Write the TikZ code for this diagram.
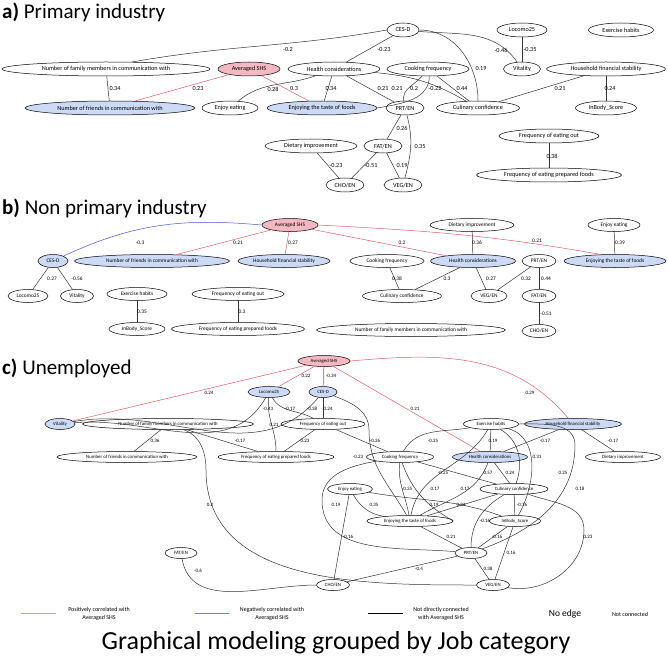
\documentclass[tikz,border=0pt]{standalone}
\usepackage{fontspec}
\setmainfont{Carlito}
\usetikzlibrary{shapes.geometric}
\definecolor{pinkf}{HTML}{F4B8C3}
\definecolor{bluef}{HTML}{CCDAF6}
\definecolor{redl}{HTML}{E35D6A}
\definecolor{bluel}{HTML}{4A57D0}
\definecolor{orl}{HTML}{EE9E5E}
\definecolor{bll}{HTML}{5B8FCF}
\begin{document}
\begin{tikzpicture}[x=1pt,y=-1pt,
  e/.style={ellipse,draw,inner sep=0pt,line width=0.5pt},
  ea/.style={e,minimum height=14pt,font=\fontsize{6.2}{6.2}\selectfont},
  eb/.style={e,minimum height=13pt,font=\fontsize{5.4}{5.4}\selectfont},
  ec/.style={e,minimum height=11pt,font=\fontsize{4.8}{4.8}\selectfont},
  pk/.style={fill=pinkf},
  bu/.style={fill=bluef},
  la/.style={inner sep=0pt,font=\fontsize{6.2}{6.2}\selectfont},
  lb/.style={inner sep=0pt,font=\fontsize{5.4}{5.4}\selectfont},
  lc/.style={inner sep=0pt,font=\fontsize{5}{5}\selectfont},
  ed/.style={line width=0.5pt,black!80},
  rd/.style={line width=0.5pt,redl},
  bd/.style={line width=0.5pt,bluel},
  ttl/.style={anchor=west,inner sep=0pt,font=\fontsize{21}{21}\selectfont}]
\useasboundingbox (0,0) rectangle (668,660);
% ===== a =====
\node[ttl] (ta) at (2,12) {\textbf{a)} Primary industry};
\node[ea,minimum width=32pt] (aCES) at (403,30) {CES-D};
\node[ea,minimum width=50pt] (aLoc) at (522,30) {Locomo25};
\node[ea,minimum width=65pt] (aEx) at (621,30) {Exercise habits};
\node[ea,minimum width=208pt] (aFam) at (106,69) {Number of family members in communication with};
\node[ea,pk,minimum width=62pt] (aSHS) at (249,69) {Averaged SHS};
\node[ea,minimum width=92pt] (aHea) at (334,69) {Health considerations};
\node[ea,minimum width=82pt] (aCook) at (428,69) {Cooking frequency};
\node[ea,minimum width=37pt] (aVit) at (522,69) {Vitality};
\node[ea,minimum width=119pt] (aHou) at (606,69) {Household financial stability};
\node[ea,bu,minimum width=170pt] (aFri) at (110,108) {Number of friends in communication with};
\node[ea,minimum width=56pt] (aEE) at (230,108) {Enjoy eating};
\node[ea,bu,minimum width=110pt] (aTas) at (322,108) {Enjoying the taste of foods};
\node[ea,minimum width=38pt] (aPRT) at (405,108) {PRT/EN};
\node[ea,minimum width=83pt] (aCul) at (478,108) {Culinary confidence};
\node[ea,minimum width=61pt] (aInB) at (606,108) {InBody\_Score};
\node[ea,minimum width=100pt] (aFO) at (549,136) {Frequency of eating out};
\node[ea,minimum width=92pt] (aDie) at (311,146) {Dietary improvement};
\node[ea,minimum width=38pt] (aFAT) at (383,146) {FAT/EN};
\node[ea,minimum width=145pt] (aFP) at (549,175) {Frequency of eating prepared foods};
\node[ea,minimum width=38pt] (aCHO) at (345,185) {CHO/EN};
\node[ea,minimum width=38pt] (aVEG) at (403,185) {VEG/EN};
\draw[ed] (aFam.15) to[out=10,in=190] (aCES.west);
\node[la] at (288,50) {-0.2};
\draw[ed] (aHea) -- (aCES);  \node[la] at (384,50) {-0.23};
\draw[ed] (aCES) to[out=-5,in=125] (aVit); \node[la] at (501,50) {-0.46};
\draw[ed] (aLoc) -- (aVit); \node[la] at (530,50) {-0.35};
\draw[ed] (aCES.east) to[out=0,in=90] (aCul.north); \node[la] at (481,69) {0.19};
\draw[ed] (aFam) -- (aFri); \node[la] at (115,89) {0.34};
\draw[rd] (aSHS) -- (aFri); \node[la] at (198,89) {0.23};
\draw[rd] (aSHS) -- (aTas); \node[la] at (294,89) {0.3};
\draw[ed] (aHea) to[out=200,in=40] (aEE); \node[la] at (273,89) {0.28};
\draw[ed] (aHea) -- (aTas); \node[la] at (331,89) {0.34};
\draw[ed] (aHea) -- (aPRT); \node[la] at (383,89) {0.21};
\draw[ed] (aCook) to[out=230,in=100] (aPRT); \node[la] at (397,89) {0.21};
\draw[ed] (aHea) to[out=-5,in=150] (aCul); \node[la] at (414,89) {0.2};
\draw[ed] (aCook.-80) to[out=-90,in=10] (aTas.east); \node[la] at (435,89) {-0.22};
\draw[ed] (aCook) -- (aCul); \node[la] at (462,89) {0.44};
\draw[ed] (aHou) -- (aCul); \node[la] at (560,89) {0.21};
\draw[ed] (aHou) -- (aInB); \node[la] at (610,89) {0.24};
\draw[ed] (aPRT) -- (aFAT); \node[la] at (402,128) {0.26};
\draw[ed] (aPRT) to[out=-75,in=75] (aVEG); \node[la] at (420,147) {0.35};
\draw[ed] (aFAT) -- (aCHO); \node[la] at (371,166) {-0.51};
\draw[ed] (aFAT) -- (aVEG); \node[la] at (402,166) {0.19};
\draw[ed] (aDie) -- (aCHO); \node[la] at (336,166) {-0.23};
\draw[ed] (aFO) -- (aFP); \node[la] at (552,156) {0.38};
% ===== b =====
\node[ttl] (tb) at (2,208) {\textbf{b)} Non primary industry};
\node[eb,pk,minimum width=56pt] (bSHS) at (290,225) {Averaged SHS};
\node[eb,minimum width=84pt] (bDie) at (472,225) {Dietary improvement};
\node[eb,minimum width=52pt] (bEE) at (614,225) {Enjoy eating};
\node[eb,bu,minimum width=30pt] (bCES) at (53,261) {CES-D};
\node[eb,bu,minimum width=155pt] (bFri) at (152,261) {Number of friends in communication with};
\node[eb,bu,minimum width=92pt] (bHou) at (284,261) {Household financial stability};
\node[eb,minimum width=74pt] (bCook) at (387,261) {Cooking frequency};
\node[eb,bu,minimum width=85pt] (bHea) at (473,261) {Health considerations};
\node[eb,minimum width=34pt] (bPRT) at (539,261) {PRT/EN};
\node[eb,bu,minimum width=102pt] (bTas) at (615,261) {Enjoying the taste of foods};
\node[eb,minimum width=40pt] (bLoc) at (28,296) {Locomo25};
\node[eb,minimum width=33pt] (bVit) at (77,296) {Vitality};
\node[eb,minimum width=60pt] (bEx) at (137,294) {Exercise habits};
\node[eb,minimum width=92pt] (bFO) at (238,294) {Frequency of eating out};
\node[eb,minimum width=79pt] (bCul) at (402,296) {Culinary confidence};
\node[eb,minimum width=36pt] (bVEG) at (489,296) {VEG/EN};
\node[eb,minimum width=34pt] (bFAT) at (539,296) {FAT/EN};
\node[eb,minimum width=56pt] (bInB) at (137,329) {InBody\_Score};
\node[eb,minimum width=133pt] (bFP) at (238,329) {Frequency of eating prepared foods};
\node[eb,minimum width=189pt] (bFam) at (411,330) {Number of family members in communication with};
\node[eb,minimum width=34pt] (bCHO) at (539,331) {CHO/EN};
\draw[bd] (bSHS.west) to[out=175,in=25] (bCES); \node[lb] at (140,243) {-0.3};
\draw[rd] (bSHS) -- (bFri); \node[lb] at (238,243) {0.21};
\draw[rd] (bSHS) -- (bHou); \node[lb] at (293,243) {0.27};
\draw[rd] (bSHS) -- (bHea); \node[lb] at (402,243) {0.2};
\draw[rd] (bSHS.east) to[out=-3,in=170] (bTas.155); \node[lb] at (537,241) {0.21};
\draw[ed] (bDie) -- (bHea); \node[lb] at (477,243) {0.36};
\draw[ed] (bEE) -- (bTas); \node[lb] at (620,243) {0.39};
\draw[ed] (bCES) -- (bLoc); \node[lb] at (52,279) {0.27};
\draw[ed] (bCES) -- (bVit); \node[lb] at (77,279) {-0.56};
\draw[ed] (bCook) -- (bCul); \node[lb] at (397,279) {0.38};
\draw[ed] (bHea) -- (bCul); \node[lb] at (447,279) {0.3};
\draw[ed] (bHea) -- (bVEG); \node[lb] at (491,279) {0.27};
\draw[ed] (bPRT) -- (bVEG); \node[lb] at (526,279) {0.32};
\draw[ed] (bPRT) -- (bFAT); \node[lb] at (546,279) {0.44};
\draw[ed] (bFAT) -- (bCHO); \node[lb] at (546,314) {-0.51};
\draw[ed] (bEx) -- (bInB); \node[lb] at (142,312) {0.35};
\draw[ed] (bFO) -- (bFP); \node[lb] at (242,312) {0.3};
% ===== c =====
\node[ttl] (tc) at (2,368) {\textbf{c)} Unemployed};
\node[ec,pk,minimum width=52pt] (cSHS) at (324,361) {Averaged SHS};
\node[ec,bu,minimum width=42pt] (cLoc) at (269,392) {Locomo25};
\node[ec,bu,minimum width=28pt] (cCES) at (323,392) {CES-D};
\node[ec,bu,minimum width=30pt] (cVit) at (60,424) {Vitality};
\node[ec,minimum width=171pt] (cFam) at (168,424) {Number of family members in communication with};
\node[ec,minimum width=84pt] (cFO) at (323,424) {Frequency of eating out};
\node[ec,minimum width=55pt] (cEx) at (491,424) {Exercise habits};
\node[ec,bu,minimum width=97pt] (cHou) at (573,424) {Household financial stability};
\node[ec,minimum width=140pt] (cFri) at (127,457) {Number of friends in communication with};
\node[ec,minimum width=116pt] (cFP) at (276,457) {Frequency of eating prepared foods};
\node[ec,minimum width=67pt] (cCook) at (400,457) {Cooking frequency};
\node[ec,bu,minimum width=75pt] (cHea) at (490,457) {Health considerations};
\node[ec,minimum width=75pt] (cDie) at (623,457) {Dietary improvement};
\node[ec,minimum width=45pt] (cEE) at (350,489) {Enjoy eating};
\node[ec,minimum width=68pt] (cCul) at (514,489) {Culinary confidence};
\node[ec,minimum width=86pt] (cTas) at (410,521) {Enjoying the taste of foods};
\node[ec,minimum width=51pt] (cInB) at (515,521) {InBody\_Score};
\node[ec,minimum width=32pt] (cPRT) at (471,553) {PRT/EN};
\node[ec,minimum width=32pt] (cFAT) at (181,553) {FAT/EN};
\node[ec,minimum width=33pt] (cCHO) at (333,585) {CHO/EN};
\node[ec,minimum width=33pt] (cVEG) at (493,585) {VEG/EN};
\draw[rd] (cSHS) -- (cVit); \node[lc] at (209,393) {0.24};
\draw[rd] (cSHS) -- (cLoc); \node[lc] at (306,376) {0.22};
\draw[bd] (cSHS) -- (cCES); \node[lc] at (331,376) {-0.34};
\draw[rd] (cSHS) -- (cHea); \node[lc] at (415,409) {0.21};
\draw[rd] (cSHS.east) to[out=5,in=130] (cHou); \node[lc] at (530,393) {0.29};
\draw[ed] (cLoc) to[out=-120,in=5] (cVit); \node[lc] at (268,409) {-0.43};
\draw[ed] (cLoc) to[out=-95,in=90] (cFP); \node[lc] at (274,425) {0.21};
\draw[ed] (cLoc) to[out=-60,in=150] (cFO); \node[lc] at (290,409) {-0.17};
\draw[ed] (cCES) to[out=-130,in=10] (cVit); \node[lc] at (312,409) {-0.38};
\draw[ed] (cCES) -- (cFO); \node[lc] at (328,409) {0.24};
\draw[ed] (cCES) to[out=-20,in=90] (369,430) to[out=-90,in=120] (cTas); \node[lc] at (358,457) {-0.23};
\draw[ed] (cFam) -- (cFri); \node[lc] at (155,441) {0.36};
\draw[ed] (cFam) -- (cFP); \node[lc] at (240,441) {-0.17};
\draw[ed] (cFam) to[out=-20,in=90] (206,470) to[out=-90,in=180] (cVEG); \node[lc] at (210,505) {0.2};
\draw[ed] (cFO) -- (cFP); \node[lc] at (305,441) {0.23};
\draw[ed] (cFO) -- (cCook); \node[lc] at (375,441) {-0.26};
\draw[ed] (cEx) to[out=190,in=60] (cCook); \node[lc] at (433,441) {-0.25};
\draw[ed] (cEx) -- (cHea); \node[lc] at (493,441) {0.19};
\draw[ed] (cEx) to[out=-30,in=70] (cCul); \node[lc] at (537,457) {0.31};
\draw[ed] (cEx) to[out=-15,in=60] (cInB); \node[lc] at (563,473) {0.25};
\draw[ed] (cEx.east) to[out=0,in=90] (575,445) to[out=-90,in=20] (cPRT); \node[lc] at (580,489) {0.18};
\draw[ed] (cEx) to[out=-120,in=80] (cTas); \node[lc] at (443,473) {-0.25};
\draw[ed] (cHou) -- (cHea); \node[lc] at (545,441) {-0.17};
\draw[ed] (cHou) -- (cDie); \node[lc] at (613,441) {-0.17};
\draw[ed] (cCook) to[out=-95,in=100] (cTas); \node[lc] at (407,489) {-0.35};
\draw[ed] (cCook) to[out=-70,in=150] (cTas.east); \node[lc] at (435,489) {0.17};
\draw[ed] (cHea) to[out=-110,in=30] (cTas); \node[lc] at (465,489) {0.17};
\draw[ed] (cCook) -- (cCul); \node[lc] at (488,473) {0.57};
\draw[ed] (cCook) to[out=190,in=90] (322,500) to[out=-90,in=175] (cPRT); \node[lc] at (336,505) {0.19};
\draw[ed] (cHea) -- (cCul); \node[lc] at (510,473) {0.24};
\draw[ed] (cEE) -- (cCHO); \node[lc] at (348,537) {-0.16};
\draw[ed] (cEE) to[out=-60,in=170] (cTas); \node[lc] at (374,505) {0.35};
\draw[ed] (cEE) to[out=-10,in=160] (cInB); \node[lc] at (434,505) {0.19};
\draw[ed] (cCul) -- (cTas); \node[lc] at (461,505) {0.34};
\draw[ed] (cCul) -- (cInB); \node[lc] at (522,505) {-0.16};
\draw[ed] (cCul) to[out=-150,in=90] (cPRT); \node[lc] at (485,521) {-0.16};
\draw[ed] (cCul) to[out=-20,in=90] (584,530) to[out=-90,in=-10] (cVEG); \node[lc] at (588,537) {0.23};
\draw[ed] (cTas) -- (cPRT); \node[lc] at (451,537) {0.21};
\draw[ed] (cInB) -- (cPRT); \node[lc] at (497,537) {-0.16};
\draw[ed] (cInB) -- (cVEG); \node[lc] at (511,553) {0.16};
\draw[ed] (cPRT) -- (cCHO); \node[lc] at (419,569) {-0.4};
\draw[ed] (cPRT) -- (cVEG); \node[lc] at (488,569) {0.38};
\draw[ed] (cFAT) to[out=-80,in=180] (cCHO); \node[lc] at (198,571) {-0.6};
% ===== legend =====
\coordinate (l1a) at (21,613); \coordinate (l1b) at (56,613);
\coordinate (l2a) at (195,613); \coordinate (l2b) at (229,613);
\coordinate (l3a) at (368,613); \coordinate (l3b) at (403,613);
\draw[orl,line width=0.6pt] (l1a) -- (l1b);
\draw[bll,line width=0.6pt] (l2a) -- (l2b);
\draw[black,line width=0.8pt] (l3a) -- (l3b);
\node[lc,align=center,font=\fontsize{6}{7.5}\selectfont] (g1) at (99,614) {Positively correlated with\\Averaged SHS};
\node[lc,align=center,font=\fontsize{6}{7.5}\selectfont] (g2) at (272,614) {Negatively correlated with\\Averaged SHS};
\node[lc,align=center,font=\fontsize{6}{7.5}\selectfont] (g3) at (441,614) {Not directly connected\\with Averaged SHS};
\node[inner sep=0pt,font=\fontsize{9.5}{9.5}\selectfont] (g4) at (565,614) {No edge};
\node[inner sep=0pt,font=\fontsize{6}{7}\selectfont] (g5) at (630,614) {Not connected};
\node[inner sep=0pt,font=\fontsize{26}{26}\selectfont] (gt) at (336,643) {Graphical modeling grouped by Job category};
\end{tikzpicture}
\end{document}
